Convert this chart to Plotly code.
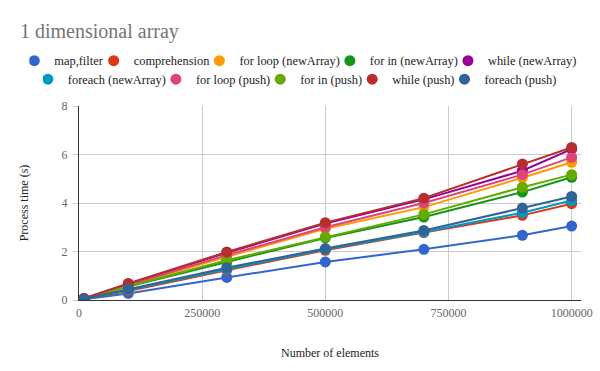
import plotly.graph_objects as go

x_vals = [10000, 100000, 300000, 500000, 700000, 900000, 1000000]

series_names = ["map,filter", "comprehension", "for loop (newArray)", "for in (newArray)",
                "while (newArray)", "foreach (newArray)", "for loop (push)", "for in (push)",
                "while (push)", "foreach (push)"]

map_filter = [0.03, 0.27, 0.93, 1.57, 2.09, 2.67, 3.05]
comprehension = [0.04, 0.37, 1.23, 2.05, 2.78, 3.49, 3.97]
for_loop_new = [0.05, 0.60, 1.78, 2.94, 3.83, 5.04, 5.68]
for_in_new = [0.05, 0.55, 1.57, 2.56, 3.42, 4.45, 5.06]
while_new = [0.06, 0.66, 1.95, 3.15, 4.15, 5.33, 6.22]
foreach_new = [0.04, 0.41, 1.27, 2.09, 2.80, 3.60, 4.10]
for_loop_push = [0.05, 0.62, 1.85, 3.00, 4.00, 5.17, 5.88]
for_in_push = [0.05, 0.57, 1.64, 2.60, 3.53, 4.65, 5.17]
while_push = [0.06, 0.68, 1.98, 3.19, 4.20, 5.61, 6.29]
foreach_push = [0.04, 0.45, 1.33, 2.12, 2.87, 3.79, 4.27]

series_values = [map_filter, comprehension, for_loop_new, for_in_new, while_new,
                 foreach_new, for_loop_push, for_in_push, while_push, foreach_push]

colors = ["#3366cc", "#dc3912", "#ff9900", "#109618", "#990099",
          "#0099c6", "#dd4477", "#66aa00", "#b82e2e", "#316395"]

x_ticks = [0, 250000, 500000, 750000, 1000000]
y_ticks = [0, 2, 4, 6, 8]

FONT = "Liberation Serif, Times New Roman, serif"

fig = go.Figure()
for i, (name, vals) in enumerate(zip(series_names, series_values)):
    fig.add_trace(go.Scatter(
        x=x_vals, y=vals, name=name, mode="lines+markers",
        line=dict(color=colors[i], width=2),
        marker=dict(color=colors[i], size=11),
        showlegend=False,
    ))
# legend entries (marker-only symbols)
for i, name in enumerate(series_names):
    fig.add_trace(go.Scatter(
        x=[None], y=[None], name=name, mode="markers",
        marker=dict(color=colors[i], size=11),
        legend="legend" if i < 5 else "legend2",
        showlegend=True,
    ))

leg_common = dict(orientation="h", xref="paper", xanchor="left", yref="paper",
                  yanchor="middle", font=dict(family=FONT, size=12.4, color="#222222"),
                  itemwidth=30, indentation=-15, bgcolor="rgba(0,0,0,0)")

fig.update_layout(
    width=600, height=371,
    margin=dict(l=79, r=19, t=106, b=71, autoexpand=False),
    paper_bgcolor="white", plot_bgcolor="white",
    font=dict(family=FONT, size=12, color="#222222"),
    title=dict(text="1 dimensional array", x=20/600, xref="container", xanchor="left",
               y=1-31/371, yref="container", yanchor="middle",
               font=dict(family=FONT, size=20, color="#757575")),
    legend=dict(x=-0.099, y=1.2316, **leg_common),
    legend2=dict(x=-0.072, y=1.1359, **leg_common),
    showlegend=True,
)

fig.update_xaxes(range=[0, 1019000], tickvals=x_ticks, ticktext=[str(v) for v in x_ticks],
                 showgrid=True, gridcolor="#cccccc", gridwidth=1, automargin=False,
                 zeroline=False, showline=True, linecolor="#333333", linewidth=1,
                 ticklabelstandoff=2,
                 tickfont=dict(family=FONT, size=12, color="#666666"),
                 title=dict(text="Number of elements", font=dict(family=FONT, size=12, color="#222222"),
                            standoff=29))
fig.update_yaxes(range=[0, 8], tickvals=y_ticks,
                 showgrid=True, gridcolor="#cccccc", gridwidth=1, automargin=False,
                 zeroline=False, showline=True, linecolor="#333333", linewidth=1,
                 ticks="outside", ticklen=5, tickcolor="#cccccc", ticklabelstandoff=3,
                 tickfont=dict(family=FONT, size=12, color="#666666"),
                 title=dict(text="Process time (s)", font=dict(family=FONT, size=12, color="#222222"),
                            standoff=30))

fig.write_html("out.html", config={"displayModeBar": False},
               post_script="document.body.style.margin='0';")
